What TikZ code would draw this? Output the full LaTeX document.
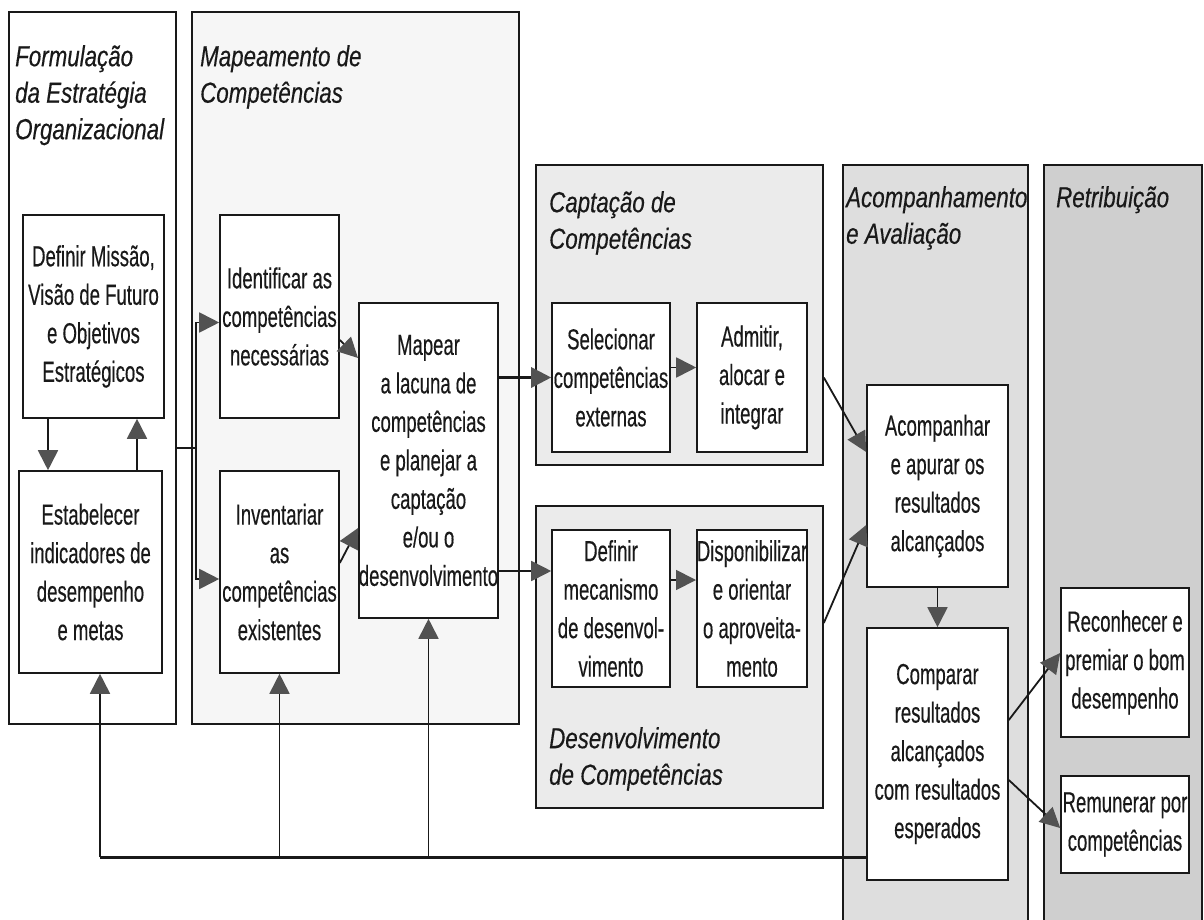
\documentclass[tikz,border=0pt]{standalone}
\usepackage{fontspec}
\setmainfont{Liberation Sans}
\newfontfamily\bodyfam[FakeStretch=0.64,FakeBold=0.35]{Liberation Sans}
\newfontfamily\titlefam[FakeStretch=0.77,FakeBold=0.35]{Liberation Sans}
\usetikzlibrary{arrows.meta,calc}

\definecolor{ink}{gray}{0.1}
\definecolor{tipgray}{gray}{0.32}
\definecolor{paneA}{gray}{0.965}
\definecolor{paneB}{gray}{0.92}
\definecolor{paneC}{gray}{0.87}
\definecolor{paneD}{gray}{0.81}

\tikzset{
  panel/.style={draw=ink, line width=1.6pt, inner sep=0pt, rectangle},
  openpanel/.style={inner sep=0pt, rectangle},
  stepbox/.style={draw=ink, line width=1.6pt, fill=white, inner sep=0pt,
    align=center, font=\bodyfam\fontsize{29}{38.5}\selectfont, text=ink},
  paneltitle/.style={anchor=north west, inner sep=0pt, align=left,
    font=\titlefam\itshape\fontsize{29}{36.5}\selectfont, text=ink},
  link/.style={draw=ink, line width=1.8pt},
  arr/.style={link, -{Triangle[length=20pt,width=20pt,fill=tipgray,color=tipgray]}},
}

\begin{document}
\begin{tikzpicture}[x=1pt,y=-1pt]
\useasboundingbox (0,0) rectangle (1204,920);
\fill[white] (0,0) rectangle (1204,920);

% ---- stage panels ----
\node[panel, fill=white, minimum width=167pt, minimum height=712pt] (p1) at (92.5,368) {};
\node[panel, fill=paneA, minimum width=327pt, minimum height=712pt] (p2) at (355.5,368) {};
\node[panel, fill=paneB, minimum width=287pt, minimum height=300pt] (p3) at (679.5,315) {};
\node[panel, fill=paneB, minimum width=287pt, minimum height=302pt] (p4) at (679.5,657) {};
\node[openpanel, fill=paneC, minimum width=185pt, minimum height=755pt] (p5) at (935.5,542.5) {};
\node[openpanel, fill=paneD, minimum width=158pt, minimum height=755pt] (p6) at (1123,542.5) {};
\draw[ink, line width=1.6pt] (p5.south west) -- (p5.north west) -- (p5.north east) -- (p5.south east);
\draw[ink, line width=1.6pt] (p6.south west) -- (p6.north west) -- (p6.north east) -- (p6.south east);

% ---- stage titles ----
\node[paneltitle] (t1) at (15,45) {Formulação\\da Estratégia\\Organizacional};
\node[paneltitle] (t2) at (200,45) {Mapeamento de\\Competências};
\node[paneltitle] (t3) at (549,191) {Captação de\\Competências};
\node[paneltitle] (t4) at (549,727) {Desenvolvimento\\de Competências};
\node[paneltitle] (t5) at (846,186) {Acompanhamento\\e Avaliação};
\node[paneltitle] (t6) at (1056,186) {Retribuição};

% ---- activity boxes ----
\node[stepbox, minimum width=141pt, minimum height=203pt] (defm) at (93.5,316.5)
  {Definir Missão,\\Visão de Futuro\\e Objetivos\\Estratégicos};
\node[stepbox, minimum width=143pt, minimum height=202pt] (estab) at (90.5,572)
  {Estabelecer\\indicadores de\\desempenho\\e metas};
\node[stepbox, minimum width=119pt, minimum height=203pt] (ident) at (279.5,316.5)
  {Identificar as\\competências\\necessárias};
\node[stepbox, minimum width=119pt, minimum height=202pt] (invent) at (279.5,572)
  {Inventariar\\as\\competências\\existentes};
\node[stepbox, minimum width=137pt, minimum height=315pt] (mapear) at (428.5,460.5)
  {Mapear\\a lacuna de\\competências\\e planejar a\\captação\\e/ou o\\desenvolvimento};
\node[stepbox, minimum width=118pt, minimum height=149pt] (selec) at (611,377.5)
  {Selecionar\\competências\\externas};
\node[stepbox, minimum width=110pt, minimum height=149pt] (admit) at (752,377.5)
  {Admitir,\\alocar e\\integrar};
\node[stepbox, minimum width=118pt, minimum height=157pt] (defmec) at (611,608.5)
  {Definir\\mecanismo\\de desenvol-\\vimento};
\node[stepbox, minimum width=110pt, minimum height=157pt] (dispon) at (752,608.5)
  {Disponibilizar\\e orientar\\o aproveita-\\mento};
\node[stepbox, minimum width=141pt, minimum height=202pt] (acomp) at (937.5,486)
  {Acompanhar\\e apurar os\\resultados\\alcançados};
\node[stepbox, minimum width=141pt, minimum height=252pt] (compar) at (937.5,754)
  {Comparar\\resultados\\alcançados\\com resultados\\esperados};
\node[stepbox, minimum width=128pt, minimum height=149pt] (recon) at (1125,662.5)
  {Reconhecer e\\premiar o bom\\desempenho};
\node[stepbox, minimum width=128pt, minimum height=97pt] (remun) at (1125,824.5)
  {Remunerar por\\competências};

% ---- helper points ----
\coordinate (sp) at (196,448);
\coordinate (xa) at (48,0);
\coordinate (xb) at (137,0);
\coordinate (fb) at (0,857);
\coordinate (fbL) at (100,857);
\coordinate (dv) at ([yshift=37.5pt]defmec.west);

% ---- strategy loop ----
\draw[arr] (defm.south -| xa) -- (estab.north -| xa);
\draw[arr] (estab.north -| xb) -- (defm.south -| xb);

% ---- strategy to mapping ----
\draw[link] (p1.east |- sp) -- (sp);
\draw[arr] (sp) |- ([yshift=-6pt]ident.west);
\draw[arr] (sp) |- ([yshift=-7pt]invent.west);
\draw[arr] ([yshift=-23.5pt]ident.east) -- ([yshift=102.5pt]mapear.west);
\draw[arr] ([yshift=9pt]invent.east) -- ([yshift=-67.5pt]mapear.west);

% ---- gap to acquisition and development ----
\draw[arr, line width=3pt] (mapear.east |- selec.west) -- (selec.west);
\draw[arr] (mapear.east |- dv) -- (dv);
\draw[arr] ([yshift=10pt]selec.east) -- ([yshift=10pt]admit.west);
\draw[arr] ([yshift=28.5pt]defmec.east) -- ([yshift=28.5pt]dispon.west);

% ---- into follow-up ----
\draw[arr] (p3.east |- selec.east) -- ([yshift=34pt]acomp.west);
\draw[arr] ([yshift=34pt]p4.east) -- ([yshift=-39pt]acomp.west);
\draw[arr] (acomp.south) -- (compar.north);

% ---- reward ----
\draw[arr] ([yshift=34pt]compar.east) -- ([yshift=9.5pt]recon.west);
\draw[arr] ([yshift=-26pt]compar.east) -- ([yshift=-3.5pt]remun.west);

% ---- feedback ----
\draw[link, line width=3pt] (compar.west |- fb) -- (fbL);
\draw[arr] (fbL) -- (estab.south -| fbL);
\draw[arr] (invent.south |- fb) -- (invent.south);
\draw[arr] (mapear.south |- fb) -- (mapear.south);
\end{tikzpicture}
\end{document}
